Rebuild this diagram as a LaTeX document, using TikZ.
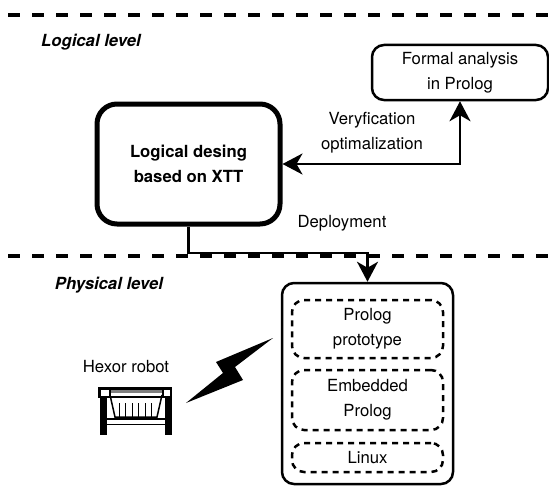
\documentclass[tikz,border=0pt]{standalone}
\usepackage{fontspec}
\setmainfont{TeX Gyre Heros}
\usetikzlibrary{arrows.meta,positioning}

\tikzstyle{box}=[rectangle, draw, line width=2.5pt, rounded corners=12pt, align=center, inner sep=0pt]
\tikzstyle{mainbox}=[box, line width=5pt, rounded corners=20pt, font=\bfseries]
\tikzstyle{layer}=[box, dash pattern=on 6pt off 5pt]
\tikzstyle{levelline}=[line width=3.5pt, dash pattern=on 12pt off 12pt, dash phase=16pt]
\tikzstyle{level}=[font=\bfseries\itshape]
\tikzstyle{label}=[align=center]
\tikzstyle{conn}=[line width=2.5pt]
\tikzset{bigtip/.tip={Stealth[length=20pt, width=21pt, inset=6pt]}}

\begin{document}
\fontsize{16.7}{25}\selectfont
\begin{tikzpicture}[x=1pt, y=-1pt]
    \useasboundingbox (0,0) rectangle (549,487);

    % level separators
    \draw[levelline] (0,15)  -- (549,15);
    \draw[levelline] (0,256) -- (549,256);
    \node[level] (logical)  at (91,42)   {Logical level};
    \node[level] (physical) at (109,285) {Physical level};

    % logical level
    \node[mainbox, minimum width=183pt, minimum height=120pt] (design) at (188.5,164) {Logical desing\\based on XTT};
    \node[box, minimum width=176pt, minimum height=55pt] (formal) at (460,72.5) {Formal analysis\\in Prolog};
    \node[label] (verif)  at (372,133) {Veryfication\\optimalization};
    \node[label] (deploy) at (342,223) {Deployment};

    % physical level
    \node[box, minimum width=171pt, minimum height=201pt] (platform) at (367.5,383.5) {};
    \node[layer, minimum width=151pt, minimum height=58pt] (proto) at (367.5,329) {Prolog\\prototype};
    \node[layer, minimum width=151pt, minimum height=60pt] (embedded) at (367.5,400) {Embedded\\Prolog};
    \node[layer, minimum width=151pt, minimum height=29pt] (linux) at (367.5,457.5) {Linux};
    \node[label] (hexor) at (126,367) {Hexor robot};

    % connectors
    \coordinate (bend) at (367.5,253);
    \draw[conn, bigtip-bigtip] (design.east) -| (formal.south);
    \draw[conn, -bigtip] (design.south) |- (bend) -- (platform.north);

    % radio link
    \fill (273,338) -- (216,362) -- (223,373) -- (186,403) -- (243,380) -- (235,367) -- cycle;

    % robot icon
    \fill (98,387) rectangle (172,398);
    \fill[white] (100.5,390) rectangle (109,396);
    \fill[white] (164,390) rectangle (170,396);
    \fill[gray] (111,389.5) rectangle (162,393);
    \fill[white] (111,393) rectangle (162,396);
    \fill (100,398) rectangle (107,435);
    \fill (165,398) rectangle (172,435);
    \draw[line width=1.5pt] (110,395) -- (115,417) -- (157,417) -- (162,395);
    \foreach \bx in {119,125.5,132,138.5,145,151.5}
        \draw[line width=0.8pt] (\bx,403) -- (\bx,417);
    \draw[line width=1.3pt] (107,419) -- (165,419);
    \draw[line width=1pt] (107,424) -- (165,424);
\end{tikzpicture}
\end{document}
